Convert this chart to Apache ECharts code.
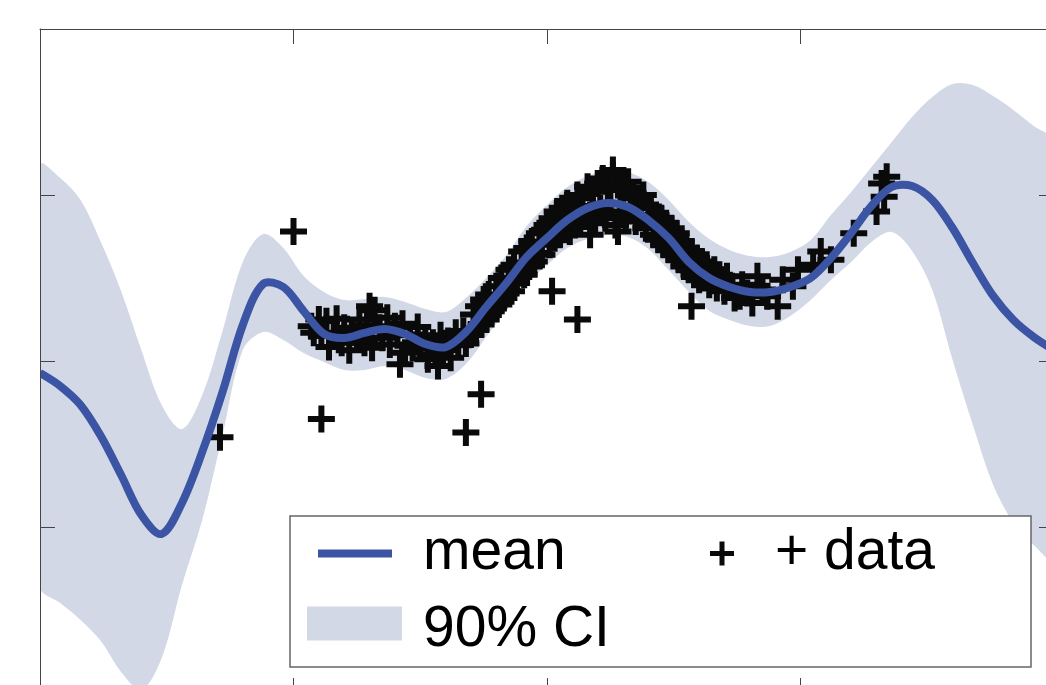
<!DOCTYPE html>
<html>
<head>
<meta charset="utf-8">
<script src="https://cdn.jsdelivr.net/npm/echarts@6/dist/echarts.min.js"></script>
<style>
html,body{margin:0;padding:0;background:#fff;overflow:hidden;}
#chart{width:1060px;height:700px;}
</style>
</head>
<body>
<div id="chart"></div>
<script>
// axis ranges (no tick labels are shown in the reference)
const xRange = [0, 4];
const yRange = [-2, 2];

// GP posterior sampled on a common x grid
const ciX = [0.00,0.08,0.16,0.24,0.32,0.40,0.48,0.56,0.64,0.72,0.80,0.88,0.96,1.04,1.12,1.20,1.28,1.36,1.44,1.52,1.60,1.68,1.76,1.84,1.92,2.00,2.08,2.16,2.24,2.32,2.40,2.48,2.56,2.64,2.72,2.80,2.88,2.96,3.04,3.12,3.20,3.28,3.36,3.44,3.52,3.60,3.68,3.76,3.84,3.92,4.00];
const meanY = [-0.072,-0.151,-0.265,-0.452,-0.687,-0.928,-1.042,-0.855,-0.548,-0.187,0.217,0.464,0.446,0.301,0.163,0.139,0.169,0.193,0.163,0.102,0.084,0.175,0.325,0.470,0.627,0.741,0.849,0.922,0.952,0.928,0.849,0.741,0.596,0.500,0.446,0.416,0.416,0.446,0.500,0.620,0.771,0.934,1.048,1.054,0.970,0.801,0.590,0.392,0.247,0.145,0.066];
const ciUpper = [1.181,1.102,0.970,0.717,0.422,0.066,-0.265,-0.410,-0.205,0.181,0.596,0.765,0.681,0.512,0.416,0.367,0.373,0.386,0.355,0.313,0.295,0.380,0.500,0.639,0.813,0.940,1.048,1.114,1.151,1.139,1.078,0.970,0.837,0.735,0.669,0.633,0.627,0.657,0.729,0.880,1.018,1.169,1.319,1.470,1.590,1.669,1.663,1.596,1.512,1.416,1.319];
const ciLower = [-1.361,-1.458,-1.560,-1.687,-1.873,-1.982,-1.789,-1.349,-0.958,-0.446,0.066,0.175,0.127,0.048,-0.006,-0.054,-0.054,-0.030,-0.054,-0.102,-0.108,-0.018,0.145,0.307,0.464,0.578,0.681,0.735,0.759,0.747,0.675,0.548,0.416,0.301,0.247,0.211,0.211,0.271,0.367,0.488,0.596,0.717,0.777,0.663,0.428,0.006,-0.386,-0.747,-0.976,-1.108,-1.199];

// observed data points [x, y]
const dataPoints = [
 [1.00,0.78],[0.71,-0.46],[1.11,-0.35],[1.68,-0.43],[1.74,-0.20],[2.02,0.42],[2.12,0.25],[2.57,0.33],[2.91,0.33],
 [1.07,0.21],[1.08,0.17],[1.10,0.25],[1.11,0.15],[1.13,0.24],[1.14,0.085],[1.16,0.17],[1.17,0.255],[1.19,0.11],[1.20,0.20],
 [1.22,0.065],[1.23,0.18],[1.25,0.145],[1.26,0.25],[1.28,0.11],[1.29,0.215],[1.30,0.33],[1.31,0.08],[1.32,0.305],[1.34,0.20],
 [1.35,0.14],[1.37,0.26],[1.38,0.10],[1.40,0.21],[1.41,0.155],[1.42,-0.02],[1.43,0.225],[1.44,0.05],[1.46,0.16],[1.47,0.08],
 [1.49,0.205],[1.50,0.085],[1.52,0.14],[1.53,0.01],[1.55,0.11],[1.56,0.04],[1.57,-0.03],[1.58,0.155],[1.59,0.065],[1.61,0.12],
 [1.62,0.02],[1.64,0.17],[1.65,0.095],[1.67,0.18],[1.68,0.105],
 [1.70,0.16],[1.71,0.28],[1.72,0.19],[1.73,0.33],[1.74,0.22],[1.75,0.37],[1.76,0.25],[1.77,0.40],[1.78,0.30],[1.79,0.33],
 [1.80,0.45],[1.81,0.34],[1.82,0.50],[1.83,0.38],[1.84,0.43],[1.85,0.55],[1.86,0.42],[1.87,0.58],[1.88,0.47],[1.89,0.53],
 [1.90,0.66],[1.91,0.52],[1.92,0.68],[1.93,0.57],[1.94,0.72],[1.95,0.60],[1.96,0.65],[1.97,0.77],[1.98,0.64],[1.99,0.79],
 [2.00,0.82],[2.01,0.70],[2.02,0.86],[2.03,0.74],[2.04,0.90],[2.05,0.76],[2.06,0.92],[2.07,0.79],[2.08,0.95],[2.09,0.78],
 [2.10,0.93],[2.11,0.82],[2.12,1.00],[2.13,0.84],[2.14,0.98],[2.15,0.87],[2.16,1.05],[2.17,0.88],[2.18,1.02],[2.19,0.83],
 [2.20,1.07],[2.21,0.92],[2.22,1.10],[2.23,0.86],[2.24,1.03],[2.25,0.95],[2.26,1.12],[2.27,0.82],[2.28,1.06],[2.29,0.90],
 [2.30,1.04],[2.31,0.86],[2.32,1.08],[2.33,0.93],[2.34,1.01],[2.35,0.84],[2.36,0.98],[2.37,0.88],[2.38,1.00],[2.39,0.80],
 [2.40,0.93],[2.26,1.15],[2.17,0.76],[2.28,0.78],
 [2.41,0.92],[2.42,0.76],[2.43,0.88],[2.44,0.73],[2.45,0.86],[2.46,0.70],[2.47,0.83],[2.48,0.67],[2.49,0.80],[2.50,0.64],
 [2.51,0.77],[2.52,0.61],[2.53,0.72],[2.54,0.57],[2.55,0.68],[2.56,0.55],[2.57,0.66],[2.58,0.52],[2.59,0.62],[2.60,0.49],
 [2.61,0.60],[2.62,0.50],[2.63,0.58],[2.64,0.46],[2.66,0.55],[2.67,0.44],[2.68,0.52],
 [2.69,0.49],[2.70,0.42],[2.71,0.51],[2.73,0.45],[2.74,0.38],[2.76,0.39],[2.77,0.46],[2.79,0.41],[2.81,0.35],[2.83,0.51],
 [2.85,0.43],[2.87,0.39],[2.93,0.49],[2.97,0.45],[2.99,0.55],
 [3.05,0.58],[3.08,0.66],[3.12,0.61],[3.21,0.77],[3.30,0.90],[3.32,1.07],[3.33,0.99],[3.34,1.11]
];

const blue = '#3b54a4';
const band = '#d2d8e5';
const axisColor = '#444';
const plusPath = 'path://M10.5,0h6v10.5h10.5v6h-10.5v10.5h-6v-10.5h-10.5v-6h10.5z';
const legendPlus = 'path://M9.5,0h5v9.5h9.5v5h-9.5v9.5h-5v-9.5h-9.5v-5h9.5z';
// patch 95x34 drawn at the top of a 95x48 icon box, so the label sits a little lower
const legendPatch = 'path://M0,0h95v34h-95zM0,48h1';
const font = "'Liberation Sans', Arial, Helvetica, sans-serif";

function axis(pos, range) {
  return {
    type: 'value', min: range[0], max: range[1], interval: 1, position: pos, z: 5,
    axisLine: {show: true, onZero: false, lineStyle: {color: axisColor, width: 1}},
    axisTick: {show: true, inside: true, length: 15, lineStyle: {color: axisColor, width: 1}},
    axisLabel: {show: false}, splitLine: {show: false}
  };
}

const chart = echarts.init(document.getElementById('chart'), null, {renderer: 'canvas'});
const legendText = {fontFamily: font, fontSize: 57, color: '#000'};
chart.setOption({
  animation: false,
  grid: {left: 40, top: 29, width: 1014, height: 664, containLabel: false, outerBoundsMode: 'none'},
  xAxis: [axis('bottom', xRange), axis('top', xRange)],
  yAxis: [axis('left', yRange), axis('right', yRange)],
  legend: [
    {data: [{name: 'mean', icon: 'rect', itemStyle: {color: blue}}], left: 318, top: 525, padding: 0, itemWidth: 74, itemHeight: 8,
     selectedMode: false, z: 60, textStyle: Object.assign({padding: [0, 0, 0, 26]}, legendText)},
    {data: [{name: '90% CI', icon: legendPatch, itemStyle: {color: band}}], left: 307, top: 602, padding: 0, itemWidth: 95, itemHeight: 48,
     selectedMode: false, z: 60, textStyle: Object.assign({padding: [0, 0, 0, 16]}, legendText)},
    {data: [{name: 'data', icon: legendPlus}], left: 710, top: 525, padding: 0, itemWidth: 24, itemHeight: 24,
     selectedMode: false, z: 60, formatter: function (n) { return '+ ' + n; },
     textStyle: Object.assign({padding: [0, 0, 0, 36]}, legendText)}
  ],
  graphic: {elements: [{type: 'rect', z: 50, shape: {x: 290, y: 516, width: 741, height: 151},
    style: {fill: '#fff', stroke: '#666', lineWidth: 1.5}}]},
  series: [
    {
      name: '90% CI', type: 'custom', z: 1, clip: true,
      itemStyle: {color: band},
      data: [[0, 0]],
      renderItem: function (params, api) {
        const pts = [];
        for (let i = 0; i < ciX.length; i++) pts.push(api.coord([ciX[i], ciUpper[i]]));
        for (let i = ciX.length - 1; i >= 0; i--) pts.push(api.coord([ciX[i], ciLower[i]]));
        return {type: 'polygon', shape: {points: pts, smooth: 0.33}, style: {fill: band}};
      }
    },
    {
      name: 'data', type: 'scatter', z: 2,
      symbol: plusPath, symbolSize: 27,
      itemStyle: {color: '#0a0a0a', opacity: 1},
      data: dataPoints
    },
    {
      name: 'mean', type: 'custom', z: 3, clip: true,
      itemStyle: {color: blue},
      data: [[0, 0]],
      renderItem: function (params, api) {
        const pts = ciX.map(function (x, i) { return api.coord([x, meanY[i]]); });
        return {type: 'polyline', shape: {points: pts, smooth: 0.33},
                style: {stroke: blue, lineWidth: 8, fill: null}};
      }
    }
  ]
});
</script>
</body>
</html>
